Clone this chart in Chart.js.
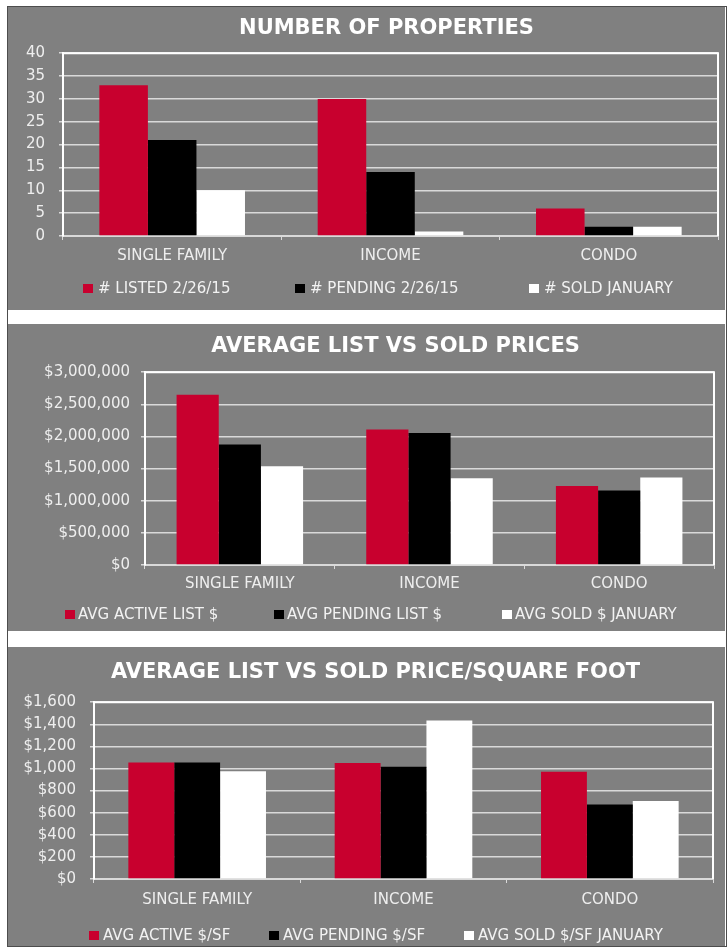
<!DOCTYPE html>
<html><head><meta charset="utf-8">
<script src="https://cdn.jsdelivr.net/npm/chart.js@4"></script>
<style>
html,body{margin:0;padding:0;background:#fff;}
body{width:727px;height:947px;position:relative;overflow:hidden;font-family:'DejaVu Sans';}
#frame{position:absolute;left:7px;top:6px;width:718px;height:939px;border:1px solid #4d4d4d;background:#fff;}
.panel{position:absolute;left:8px;width:717px;background:#808080;overflow:hidden;}
.panel canvas{position:absolute;left:0;top:0;}
.item{position:absolute;display:flex;align-items:center;color:#f2f2f2;font:15px 'DejaVu Sans';white-space:nowrap;transform:translateY(-50%);line-height:18px;}
.box{display:inline-block;width:10px;height:9px;}
</style></head>
<body>
<div id="frame"></div>
<div class="panel" id="p1" style="top:7px;height:303px;"><canvas id="c1"></canvas></div>
<div class="panel" id="p2" style="top:324px;height:307px;"><canvas id="c2"></canvas></div>
<div class="panel" id="p3" style="top:647px;height:299px;"><canvas id="c3"></canvas></div>
<script>
// ---------- data ----------
const categories = ['SINGLE FAMILY', 'INCOME', 'CONDO'];
const seriesColors = ['#c8002e', '#000000', '#ffffff'];

const countTitle = 'NUMBER OF PROPERTIES';
const countSeriesNames = ['# LISTED 2/26/15', '# PENDING 2/26/15', '# SOLD JANUARY'];
const listedCount = [33, 30, 6];
const pendingCount = [21, 14, 2];
const soldCount = [10, 1, 2];
const countTicks = [0, 5, 10, 15, 20, 25, 30, 35, 40];

const priceTitle = 'AVERAGE LIST VS SOLD PRICES';
const priceSeriesNames = ['AVG ACTIVE LIST $', 'AVG PENDING LIST $', 'AVG SOLD $ JANUARY'];
const activeListPrice = [2650000, 2110000, 1230000];
const pendingListPrice = [1875000, 2055000, 1160000];
const soldPrice = [1535000, 1350000, 1360000];
const priceTicks = [0, 500000, 1000000, 1500000, 2000000, 2500000, 3000000];

const sfTitle = 'AVERAGE LIST VS SOLD PRICE/SQUARE FOOT';
const sfSeriesNames = ['AVG ACTIVE $/SF', 'AVG PENDING $/SF', 'AVG SOLD $/SF JANUARY'];
const activeSF = [1055, 1050, 970];
const pendingSF = [1055, 1015, 675];
const soldSF = [975, 1435, 705];
const sfTicks = [0, 200, 400, 600, 800, 1000, 1200, 1400, 1600];

// ---------- rendering ----------
Chart.defaults.font.family = "'DejaVu Sans'";
const dollar = v => '$' + Number(v).toLocaleString('en-US');

const plotBorder = {
  id: 'plotBorder',
  beforeDatasetsDraw(chart) {
    const {ctx, chartArea: a} = chart;
    ctx.save();
    ctx.strokeStyle = '#ffffff';
    ctx.lineWidth = 2;
    ctx.beginPath();
    ctx.moveTo(a.left, a.bottom);
    ctx.lineTo(a.left, a.top);
    ctx.lineTo(a.right, a.top);
    ctx.lineTo(a.right, a.bottom);
    ctx.stroke();
    ctx.restore();
  }
};

function makeChart(cfg) {
  const canvas = document.getElementById(cfg.canvas);
  canvas.width = cfg.plotRight + cfg.rightSpace;
  canvas.height = cfg.height;
  const datasets = cfg.series.map((vals, i) => ({
    label: cfg.names[i],
    data: vals,
    backgroundColor: seriesColors[i],
    borderWidth: 0,
    categoryPercentage: 0.667,
    barPercentage: 1.0
  }));
  const chart = new Chart(canvas, {
    type: 'bar',
    data: {labels: categories, datasets},
    plugins: [plotBorder],
    options: {
      responsive: false,
      animation: false,
      devicePixelRatio: 1,
      events: [],
      layout: {padding: {left: 0, right: 0, top: 0, bottom: cfg.padB}},
      plugins: {
        legend: {display: false},
        tooltip: {enabled: false},
        title: {
          display: true, text: cfg.title, color: '#ffffff',
          font: {size: 21, weight: 'bold', lineHeight: 1.2},
          padding: {top: cfg.titleTop, bottom: cfg.titleBottom}
        }
      },
      scales: {
        x: {
          grid: {display: true, drawOnChartArea: false, drawTicks: true, tickLength: 4, tickColor: '#d9d9d9', offset: true},
          border: {display: true, color: '#d9d9d9', width: 2},
          ticks: {color: '#eeeeee', font: {size: 15}, padding: cfg.xPad, maxRotation: 0},
          afterFit(s) { s.height = 30; }
        },
        y: {
          min: cfg.ticks[0], max: cfg.ticks[cfg.ticks.length - 1],
          afterBuildTicks(s) { s.ticks = cfg.ticks.map(v => ({value: v})); },
          grid: {color: '#d9d9d9', lineWidth: 1.5, tickColor: '#d9d9d9', tickLength: 4, drawTicks: true},
          border: {display: true, color: '#ffffff', width: 2},
          ticks: {color: '#eeeeee', font: {size: 15}, padding: cfg.yPad, callback: cfg.fmt},
          afterFit(s) { s.width = cfg.plotLeft; }
        },
        spacer: {
          position: 'right', display: true,
          grid: {display: false}, border: {display: false}, ticks: {display: false},
          afterFit(s) { s.width = cfg.rightSpace; }
        }
      }
    }
  });
  // legend built from the chart's datasets
  const panel = document.getElementById(cfg.panel);
  chart.data.datasets.forEach((ds, i) => {
    const item = document.createElement('div');
    item.className = 'item';
    item.style.left = cfg.legendX[i] + 'px';
    item.style.top = cfg.legendY + 'px';
    const box = document.createElement('span');
    box.className = 'box';
    box.style.background = ds.backgroundColor;
    box.style.marginRight = cfg.boxGap + 'px';
    item.appendChild(box);
    item.appendChild(document.createTextNode(ds.label));
    panel.appendChild(item);
  });
  return chart;
}

makeChart({
  canvas: 'c1', panel: 'p1', title: countTitle, names: countSeriesNames,
  series: [listedCount, pendingCount, soldCount], ticks: countTicks, fmt: v => String(v),
  height: 303, plotLeft: 55, plotRight: 710, rightSpace: 47, padB: 44,
  titleTop: 9, titleBottom: 12, yPad: 14, xPad: 7.5,
  legendX: [75, 287, 521], legendY: 281, boxGap: 5
});
makeChart({
  canvas: 'c2', panel: 'p2', title: priceTitle, names: priceSeriesNames,
  series: [activeListPrice, pendingListPrice, soldPrice], ticks: priceTicks, fmt: dollar,
  height: 307, plotLeft: 137, plotRight: 706, rightSpace: 69, padB: 36,
  titleTop: 10, titleBottom: 13, yPad: 11, xPad: 6.5,
  legendX: [57, 266, 494], legendY: 290, boxGap: 3
});
makeChart({
  canvas: 'c3', panel: 'p3', title: sfTitle, names: sfSeriesNames,
  series: [activeSF, pendingSF, soldSF], ticks: sfTicks, fmt: dollar,
  height: 299, plotLeft: 86, plotRight: 705, rightSpace: 30, padB: 37,
  titleTop: 13, titleBottom: 17, yPad: 14, xPad: 8.5,
  legendX: [81, 261, 456], legendY: 288, boxGap: 4
});
</script>
</body></html>
